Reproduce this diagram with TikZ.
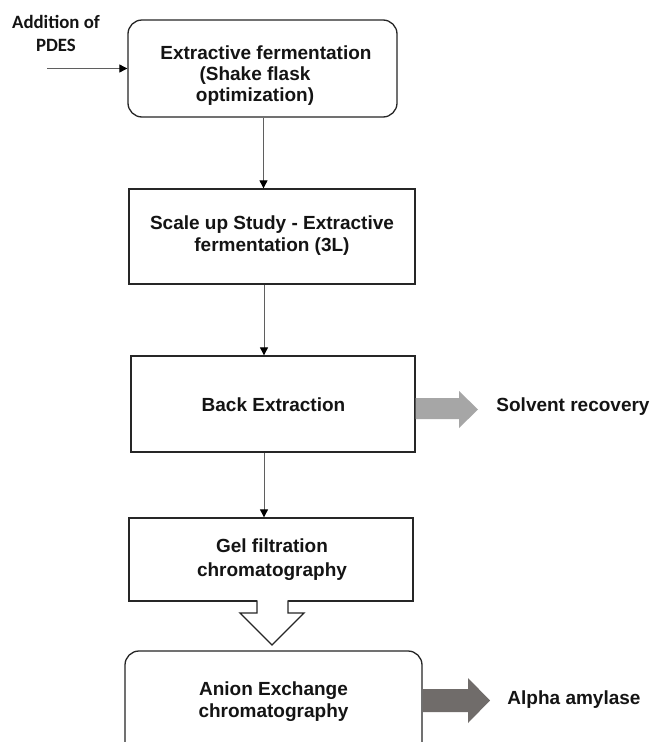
\documentclass[tikz,border=0pt]{standalone}
\usepackage{fontspec}
\setmainfont{Liberation Sans}
\newfontfamily\carlfont{Carlito}
\usetikzlibrary{arrows.meta}
\definecolor{lightarrow}{RGB}{166,166,166}
\definecolor{darkarrow}{RGB}{112,108,106}
\definecolor{boxline}{RGB}{38,38,38}
\definecolor{connline}{RGB}{95,95,95}
\definecolor{txt}{RGB}{20,20,20}
\begin{document}
\begin{tikzpicture}[x=1pt,y=-1pt,
  box/.style={draw=boxline,line width=1.3pt,fill=white,inner sep=0pt,rectangle},
  roundbox/.style={box,rounded corners=14pt},
  lbl/.style={text=txt,font=\fontsize{19}{22}\selectfont\bfseries,align=center,inner sep=0pt},
  conn/.style={draw=connline,line width=0.9pt,-{Triangle[length=8pt,width=8pt,color=black]}},
  hollow/.style={draw=boxline,line width=1.3pt,fill=white,line join=miter}
]
\useasboundingbox (0,0) rectangle (652,742);
\clip (0,0) rectangle (652,742);
\fill[white] (0,0) rectangle (652,742);

% boxes
\node[roundbox,minimum width=269pt,minimum height=97pt] (b1) at (262.5,68.5) {};
\node[box,minimum width=286pt,minimum height=95pt] (b2) at (272,236.5) {};
\node[box,minimum width=284pt,minimum height=96pt] (b3) at (273,404) {};
\node[box,minimum width=284pt,minimum height=83pt] (b4) at (271,559.5) {};
\node[roundbox,minimum width=297pt,minimum height=110pt] (b5) at (273.5,706) {};

% box texts
\node[lbl] (t1a) at (266,53) {Extractive fermentation};
\node[lbl] (t1b) at (255,76) {(Shake flask};
\node[lbl] (t1c) at (255,97) {optimization)};
\node[lbl] (t2) at (272,236) {Scale up Study - Extractive\\fermentation (3L)};
\node[lbl] (t3) at (273.5,405) {Back Extraction};
\node[lbl,font=\fontsize{19}{24}\selectfont\bfseries] (t4) at (272,560) {Gel filtration\\chromatography};
\node[lbl] (t5) at (273.5,702) {Anion Exchange\\chromatography};

% side labels
\node[text=txt,font=\carlfont\fontsize{18.8}{23}\selectfont\bfseries,align=center,inner sep=0pt] (add) at (56,33.5) {Addition of\\PDES};
\node[lbl] (solv) at (573,407) {Solvent recovery};
\node[lbl] (alpha) at (574,700) {Alpha amylase};

% connectors
\coordinate (inp) at (47,68.5);
\coordinate (xa) at (263.5,0);
\coordinate (xb) at (264,0);
\draw[conn] (inp) -- (b1.west |- inp);
\draw[conn] (b1.south -| xa) -- (b2.north -| xa);
\draw[conn] (b2.south -| xb) -- (b3.north -| xb);
\draw[conn] (b3.south -| xb) -- (b4.north -| xb);

% hollow block arrow
\fill[white] (257,598.5) rectangle (288,613);
\draw[hollow] (257,600.4) -- (257,613) -- (240,613) -- (272,645) -- (304,613) -- (288,613) -- (288,600.4);

% grey block arrows
\fill[lightarrow] (b3.east |- 0,398) -- (459,398) -- (459,391) -- (478,409.5) -- (459,428) -- (459,419) -- (b3.east |- 0,419) -- cycle;
\fill[darkarrow] (b5.east |- 0,689) -- (468,689) -- (468,678) -- (490,700.5) -- (468,723) -- (468,712) -- (b5.east |- 0,712) -- cycle;
\end{tikzpicture}
\end{document}
